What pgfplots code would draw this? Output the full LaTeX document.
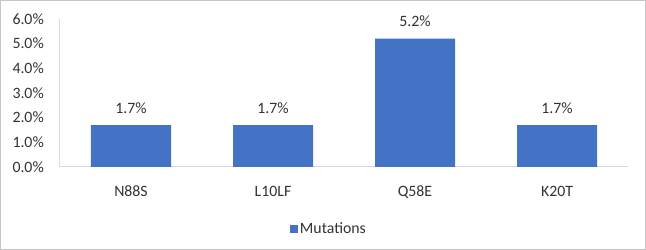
\documentclass[border=0pt]{standalone}
\usepackage{pgfplots}
\pgfplotsset{compat=1.18}
\usepackage{fontspec}
\setmainfont{Carlito}
\definecolor{barblue}{HTML}{4472C4}
\definecolor{txt}{HTML}{333333}
\definecolor{axgray}{HTML}{D9D9D9}
\begin{document}
\begin{tikzpicture}
\begin{axis}[
  scale only axis,
  width=568pt, height=148pt,
  xmin=-0.5, xmax=3.5,
  ymin=0, ymax=6,
  xtick=data,
  xticklabels={N88S,L10LF,Q58E,K20T},
  ytick={0,1,2,3,4,5,6},
  yticklabels={0.0\%,1.0\%,2.0\%,3.0\%,4.0\%,5.0\%,6.0\%},
  axis x line*=bottom,
  axis y line*=left,
  axis line style={axgray, line width=1pt},
  x axis line style={-},
  y axis line style={-},
  major tick length=0pt,
  tick style={draw=none},
  /pgf/number format/assume math mode=true,
  font=\fontsize{15.8}{18}\selectfont,
  every tick label/.append style={text=txt},
  yticklabel style={anchor=east, inner sep=0pt, xshift=-16pt},
  xticklabel style={anchor=base, inner sep=0pt, yshift=-30pt},
  ybar,
  bar width=80pt,
  nodes near coords={\pgfmathprintnumber[fixed,fixed zerofill,precision=1,assume math mode=true]{\pgfplotspointmeta}\%},
  nodes near coords style={anchor=base, inner sep=0pt, yshift=12pt, text=txt, font=\fontsize{15.8}{18}\selectfont},
  legend style={draw=none, fill=none, at={(rel axis cs:0.4735,-0.42)}, anchor=center, text=txt, font=\fontsize{15.8}{18}\selectfont, inner sep=0pt, nodes={inner xsep=2pt}},
  legend image code/.code={\fill[barblue] (0pt,-4pt) rectangle (8pt,4pt);},
  clip=false,
]
\addplot[fill=barblue, draw=none] coordinates {(0,1.7) (1,1.7) (2,5.2) (3,1.7)};
\legend{Mutations}
\end{axis}
\draw[gray!45, line width=1pt] ([xshift=-59.5pt,yshift=-82.5pt]current axis.south west) rectangle ([xshift=17.5pt,yshift=18.5pt]current axis.north east);
\end{tikzpicture}
\end{document}
